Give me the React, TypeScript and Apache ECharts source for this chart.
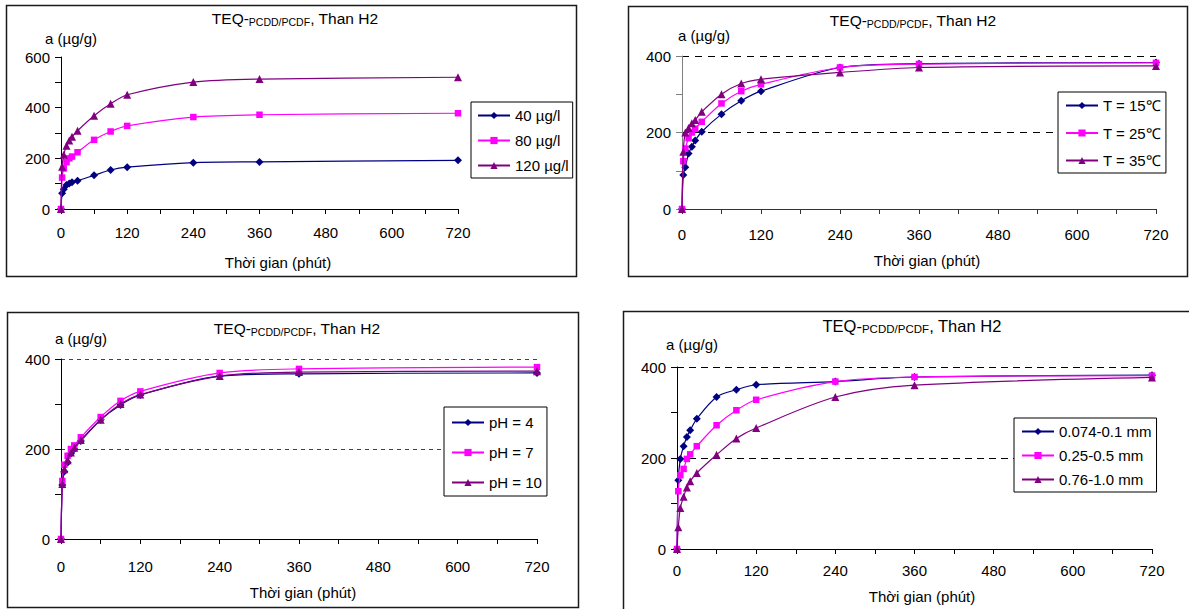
import React, { useEffect, useRef } from 'react';
import * as echarts from 'echarts';

// ---------- DATA ----------
const times = [0, 2, 5, 10, 15, 20, 30, 60, 90, 120, 240, 360, 720];

// Panel 1: initial concentration
const conc40 = [0, 62, 78, 95, 101, 106, 112, 133, 154, 165, 183, 186, 192];
const conc80 = [0, 124, 160, 185, 200, 207, 224, 273, 306, 328, 363, 372, 378];
const conc120 = [0, 167, 214, 250, 270, 285, 309, 368, 415, 451, 501, 513, 520];
const concNames = ['40 µg/l', '80 µg/l', '120 µg/l'];

// Panel 2: temperature
const temp15 = [0, 89, 109, 145, 163, 179, 202, 248, 283, 308, 370, 380, 383];
const temp25 = [0, 125, 158, 185, 200, 210, 228, 276, 308, 326, 370, 379, 382];
const temp35 = [0, 150, 200, 212, 224, 233, 254, 300, 328, 339, 357, 370, 374];
const tempNames = ['T = 15℃', 'T = 25℃', 'T = 35℃'];

// Panel 3: pH
const ph4 = [0, 120, 150, 170, 190, 200, 218, 265, 298, 320, 362, 367, 369];
const ph7 = [0, 129, 165, 185, 200, 208, 226, 271, 307, 328, 369, 378, 382];
const ph10 = [0, 122, 155, 175, 192, 203, 220, 265, 300, 321, 362, 371, 373];
const phNames = ['pH = 4', 'pH = 7', 'pH = 10'];

// Panel 4: particle size
const size1 = [0, 151, 198, 226, 246, 261, 286, 334, 350, 361, 368, 378, 382];
const size2 = [0, 127, 162, 176, 198, 208, 226, 272, 305, 328, 368, 378, 381];
const size3 = [0, 48, 90, 115, 135, 149, 167, 207, 243, 266, 334, 360, 377];
const sizeNames = ['0.074-0.1 mm', '0.25-0.5 mm', '0.76-1.0 mm'];

const xMax = 720;
const xInterval = 120;
const yInterval = 200;
const yMaxes = [600, 400, 400, 400];

const chartTitle = '{a|TEQ-}{b|PCDD/PCDF}{a|, Than H2}';
const yTitle = 'a (µg/g)';
const xTitle = 'Thời gian (phút)';

// ---------- STYLE / LAYOUT ----------
const FONT = '"Liberation Sans", Arial, Helvetica, sans-serif';
const colors = ['#000080', '#FF00FF', '#800080'];
const symbols = ['diamond', 'rect', 'triangle'];
const symbolSizes = [8, 6.5, 8];

const panelData = [
  { names: concNames, values: [conc40, conc80, conc120] },
  { names: tempNames, values: [temp15, temp25, temp35] },
  { names: phNames, values: [ph4, ph7, ph10] },
  { names: sizeNames, values: [size1, size2, size3] },
];

const layouts = [
  {
    grid: { left: 61, top: 57, width: 397, height: 152 },
    split: false, splitColor: '#000', splitDash: [6, 5],
    yAxisColor: '#000', xAxisColor: '#000', xLabelMargin: 16,
    legend: { left: 471, top: 102, itemGap: 10, padding: [6, 4, 5, 6] },
    title: { x: 295, y: 18, a: 15.5, b: 10.5 },
    yName: { x: 45, y: 38 }, xName: { x: 278, y: 262 },
    border: { x: 6.5, y: 5.5, width: 570, height: 271 },
  },
  {
    grid: { left: 682, top: 56, width: 474, height: 153 },
    split: true, splitColor: '#000', splitDash: [7, 6],
    yAxisColor: '#808080', xAxisColor: '#333', xLabelMargin: 18,
    legend: { left: 1058, top: 92, itemGap: 12.5, padding: [6, 5, 5, 7] },
    title: { x: 913, y: 20, a: 15.5, b: 10.5 },
    yName: { x: 678, y: 35 }, xName: { x: 927, y: 260 },
    border: { x: 628.5, y: 6.5, width: 559, height: 270 },
  },
  {
    grid: { left: 61, top: 359, width: 476, height: 180 },
    split: true, splitColor: '#444', splitDash: [4, 4],
    yAxisColor: '#000', xAxisColor: '#000', xLabelMargin: 20,
    legend: { left: 444, top: 407, itemGap: 15, padding: [8, 5, 6, 7] },
    title: { x: 297, y: 328, a: 15.5, b: 10.5 },
    yName: { x: 55, y: 338 }, xName: { x: 303, y: 592 },
    border: { x: 7.5, y: 312.5, width: 571, height: 295 },
  },
  {
    grid: { left: 677, top: 367, width: 475, height: 182 },
    split: true, splitColor: '#000', splitDash: [7, 5],
    yAxisColor: '#000', xAxisColor: '#000', xLabelMargin: 14,
    legend: { left: 1014, top: 418, itemGap: 9, padding: [6, 5, 5, 7] },
    title: { x: 912, y: 326, a: 16.5, b: 11.5 },
    yName: { x: 666, y: 344 }, xName: { x: 922, y: 596 },
    border: { x: 623.5, y: 311.5, width: 600, height: 320 },
  },
];

function buildOption() {
  const grid: any[] = [];
  const xAxis: any[] = [];
  const yAxis: any[] = [];
  const legend: any[] = [];
  const series: any[] = [];
  const graphic: any[] = [];

  layouts.forEach((L, i) => {
    grid.push({ ...L.grid, containLabel: false });
    xAxis.push({
      type: 'value', gridIndex: i, min: 0, max: xMax, interval: xInterval,
      axisLine: { show: true, onZero: false, lineStyle: { color: L.xAxisColor, width: 1 } },
      axisTick: { show: true, length: 5, lineStyle: { color: L.xAxisColor } },
      minorTick: { show: true, splitNumber: 2, length: 5, lineStyle: { color: L.xAxisColor } },
      splitLine: { show: false },
      axisLabel: { margin: L.xLabelMargin, fontSize: 15, fontFamily: FONT, color: '#000' },
    });
    yAxis.push({
      type: 'value', gridIndex: i, min: 0, max: yMaxes[i], interval: yInterval,
      axisLine: { show: true, lineStyle: { color: L.yAxisColor, width: 1 } },
      axisTick: { show: true, length: 6, lineStyle: { color: L.yAxisColor } },
      minorTick: { show: true, splitNumber: 2, length: 6, lineStyle: { color: L.yAxisColor } },
      splitLine: { show: L.split, lineStyle: { color: L.splitColor, type: L.splitDash, width: 1 } },
      axisLabel: { margin: 11, fontSize: 15, fontFamily: FONT, color: '#000' },
    });
    const P = panelData[i];
    legend.push({
      orient: 'vertical', left: L.legend.left, top: L.legend.top,
      itemWidth: 32, itemHeight: 9, itemGap: L.legend.itemGap, padding: L.legend.padding,
      borderColor: '#000', borderWidth: 1, backgroundColor: '#fff', borderRadius: 0,
      selectedMode: false,
      textStyle: { fontSize: 15, fontFamily: FONT, color: '#000', lineHeight: 15 },
      data: P.names,
    });
    P.names.forEach((name, k) => {
      series.push({
        name, type: 'line', xAxisIndex: i, yAxisIndex: i,
        data: times.map((t, j) => [t, P.values[k][j]]),
        smooth: 0.3,
        symbol: symbols[k], symbolSize: symbolSizes[k], showAllSymbol: true,
        clip: false,
        lineStyle: { color: colors[k], width: 1.2 },
        itemStyle: { color: colors[k], borderWidth: 0 },
        z: 2 + k,
      });
    });
    graphic.push({
      type: 'rect', silent: true, z: -1,
      shape: { x: L.border.x, y: L.border.y, width: L.border.width, height: L.border.height },
      style: { fill: 'none', stroke: '#1a1a1a', lineWidth: 1.5 },
    });
    graphic.push({
      type: 'text', silent: true, x: L.title.x, y: L.title.y,
      style: {
        text: chartTitle, align: 'center', verticalAlign: 'middle',
        rich: {
          a: { fontSize: L.title.a, fontFamily: FONT, lineHeight: 18, fill: '#000' },
          b: { fontSize: L.title.b, fontFamily: FONT, lineHeight: 15, verticalAlign: 'bottom', fill: '#000' },
        },
      },
    });
    graphic.push({
      type: 'text', silent: true, x: L.yName.x, y: L.yName.y,
      style: { text: yTitle, align: 'left', verticalAlign: 'middle', fontSize: 15, fontFamily: FONT, fill: '#000' },
    });
    graphic.push({
      type: 'text', silent: true, x: L.xName.x, y: L.xName.y,
      style: { text: xTitle, align: 'center', verticalAlign: 'middle', fontSize: 15, fontFamily: FONT, fill: '#000' },
    });
  });

  return {
    animation: false,
    backgroundColor: '#fff',
    textStyle: { fontFamily: FONT },
    grid, xAxis, yAxis, legend, series, graphic,
  };
}

export default function App() {
  const ref = useRef<HTMLDivElement>(null);
  useEffect(() => {
    if (!ref.current) return;
    const chart = echarts.init(ref.current, undefined, { renderer: 'svg' });
    chart.setOption(buildOption() as any);
    return () => chart.dispose();
  }, []);
  return (
    <div
      ref={ref}
      style={{ position: 'fixed', left: 0, top: 0, width: 1189, height: 609, background: '#fff' }}
    />
  );
}
